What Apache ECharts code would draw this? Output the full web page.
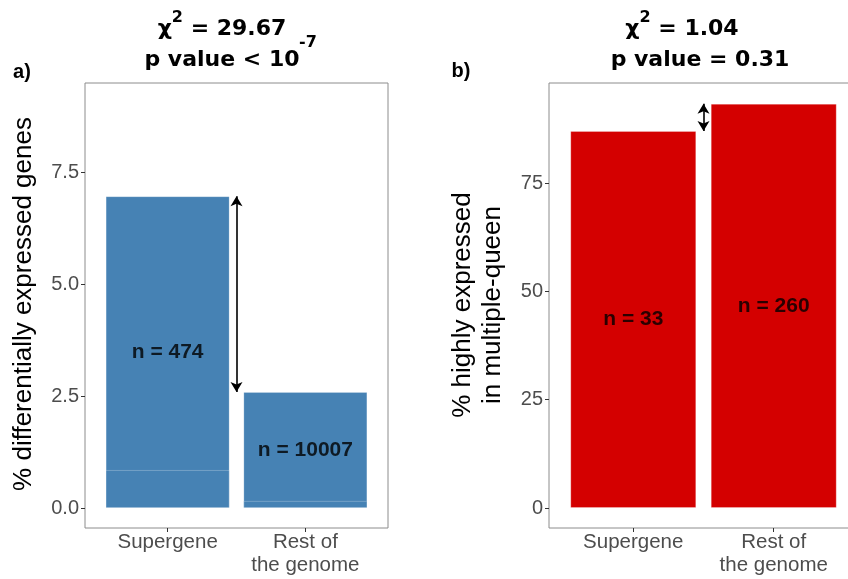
<!DOCTYPE html>
<html><head><meta charset="utf-8">
<script src="https://cdn.jsdelivr.net/npm/echarts@6/dist/echarts.min.js"></script>
<style>html,body{margin:0;padding:0;background:#fff}#c{width:848px;height:579px}</style>
</head><body><div id="c"></div>
<script>
// ---- data ----
const categories = ['Supergene', 'Rest of\nthe genome'];
const pctDiffExpressed = [6.96, 2.59];      // panel a totals
const pctDiffLowerPart = [0.85, 0.16];      // panel a lower segment (faint split line)
const countsA = [474, 10007];
const pctHighMultiQueen = [87.0, 93.3];     // panel b
const countsB = [33, 260];
const ticksA = [0, 2.5, 5, 7.5];
const ticksB = [0, 25, 50, 75];
const catPos = [1, 2];

const gray = '#4d4d4d';
const sans = '"Liberation Sans", Arial, sans-serif';
const dejavu = '"DejaVu Sans", sans-serif';

function xAxis(gridIndex) {
  return {
    type: 'value', gridIndex, min: 0.4, max: 2.6,
    axisLine: { show: false, onZero: false },
    axisTick: { show: true, customValues: catPos, length: 4, lineStyle: { color: '#333' } },
    axisLabel: { customValues: catPos, margin: 3, color: gray, fontSize: 20.5, lineHeight: 23,
      fontFamily: sans, formatter: v => categories[Math.round(v) - 1] },
    splitLine: { show: false }
  };
}
function yAxis(gridIndex, min, max, ticks, dec) {
  return {
    type: 'value', gridIndex, min, max,
    axisLine: { show: false },
    axisTick: { show: true, customValues: ticks, length: 4, lineStyle: { color: '#333' } },
    axisLabel: { customValues: ticks, margin: 6, color: gray, fontSize: 20, fontFamily: sans,
      formatter: v => v.toFixed(dec) },
    splitLine: { show: false }
  };
}
function arrowLine(vals) {
  return {
    silent: true, symbol: ['arrow', 'arrow'], symbolSize: [9, 10],
    lineStyle: { color: '#000', width: 1.6, type: 'solid' },
    label: { show: false },
    data: [[{ coord: [1.5, vals[0]] }, { coord: [1.5, vals[1]] }]]
  };
}
function labelSeries(xi, vals, counts) {
  return {
    type: 'scatter', xAxisIndex: xi, yAxisIndex: xi, symbolSize: 0, silent: true,
    data: vals.map((v, i) => [catPos[i], v / 2, counts[i]]),
    label: { show: true, position: 'inside', color: '#000', fontWeight: 'bold', fontSize: 21,
      fontFamily: sans, formatter: p => 'n = ' + p.value[2] },
    markLine: arrowLine(vals), z: 5
  };
}
function chiText(x, y, val) {
  return { type: 'text', x, y, style: {
    text: '{a|χ}{s|2}{a| = ' + val + '}', align: 'center', verticalAlign: 'middle', fill: '#000',
    rich: {
      a: { fontFamily: dejavu, fontWeight: 'bold', fontSize: 22, lineHeight: 30, verticalAlign: 'bottom', fill: '#000' },
      s: { fontFamily: dejavu, fontWeight: 'bold', fontSize: 16, lineHeight: 30, verticalAlign: 'top', fill: '#000' }
    } } };
}

const chart = echarts.init(document.getElementById('c'), null, { renderer: 'canvas' });
chart.setOption({
  animation: false,
  backgroundColor: '#fff',
  grid: [
    { left: 85, top: 83, width: 303, height: 445, show: true, borderColor: '#8c8c8c', borderWidth: 1,
      backgroundColor: 'transparent', outerBoundsMode: 'none', containLabel: false },
    { left: 549, top: 83, width: 309, height: 445, show: true, borderColor: '#8c8c8c', borderWidth: 1,
      backgroundColor: 'transparent', outerBoundsMode: 'none', containLabel: false }
  ],
  xAxis: [xAxis(0), xAxis(1)],
  yAxis: [yAxis(0, -0.446, 9.487, ticksA, 1), yAxis(1, -4.615, 98.08, ticksB, 0)],
  series: [
    { type: 'bar', xAxisIndex: 0, yAxisIndex: 0, barWidth: 124, barGap: '-100%',
      itemStyle: { color: '#4682b4', borderColor: 'rgba(255,255,255,0.2)', borderWidth: 1 },
      data: pctDiffExpressed.map((v, i) => [catPos[i], v]) },
    { type: 'bar', xAxisIndex: 0, yAxisIndex: 0, barWidth: 124, barGap: '-100%',
      itemStyle: { color: '#4682b4', borderColor: 'rgba(255,255,255,0.25)', borderWidth: 1 },
      data: pctDiffLowerPart.map((v, i) => [catPos[i], v]) },
    labelSeries(0, pctDiffExpressed, countsA),
    { type: 'bar', xAxisIndex: 1, yAxisIndex: 1, barWidth: 126,
      itemStyle: { color: '#d40000', borderColor: 'rgba(255,255,255,0.25)', borderWidth: 1 },
      data: pctHighMultiQueen.map((v, i) => [catPos[i], v]) },
    labelSeries(1, pctHighMultiQueen, countsB)
  ],
  graphic: [
    chiText(222, 25, '29.67'),
    { type: 'text', x: 222, y: 60, style: { text: 'p value < 10', align: 'center', verticalAlign: 'middle', font: 'bold 22px ' + dejavu, fill: '#000' } },
    { type: 'text', x: 299, y: 43, style: { text: '-7', align: 'left', verticalAlign: 'middle', font: 'bold 16px ' + dejavu, fill: '#000' } },
    chiText(682, 25, '1.04'),
    { type: 'text', x: 700, y: 60, style: { text: 'p value = 0.31', align: 'center', verticalAlign: 'middle', font: 'bold 22px ' + dejavu, fill: '#000' } },
    { type: 'text', x: 22, y: 72, style: { text: 'a)', align: 'center', verticalAlign: 'middle', font: 'bold 20px ' + sans, fill: '#000' } },
    { type: 'text', x: 461, y: 71, style: { text: 'b)', align: 'center', verticalAlign: 'middle', font: 'bold 20px ' + sans, fill: '#000' } },
    { type: 'text', x: 24, y: 304, rotation: Math.PI / 2, style: { text: '% differentially expressed genes', align: 'center', verticalAlign: 'middle', font: '26px ' + sans, fill: '#000' } },
    { type: 'text', x: 478, y: 305, rotation: Math.PI / 2, style: { text: '% highly expressed\nin multiple-queen', align: 'center', verticalAlign: 'middle', lineHeight: 30, font: '26px ' + sans, fill: '#000' } }
  ]
});
</script>
</body></html>
